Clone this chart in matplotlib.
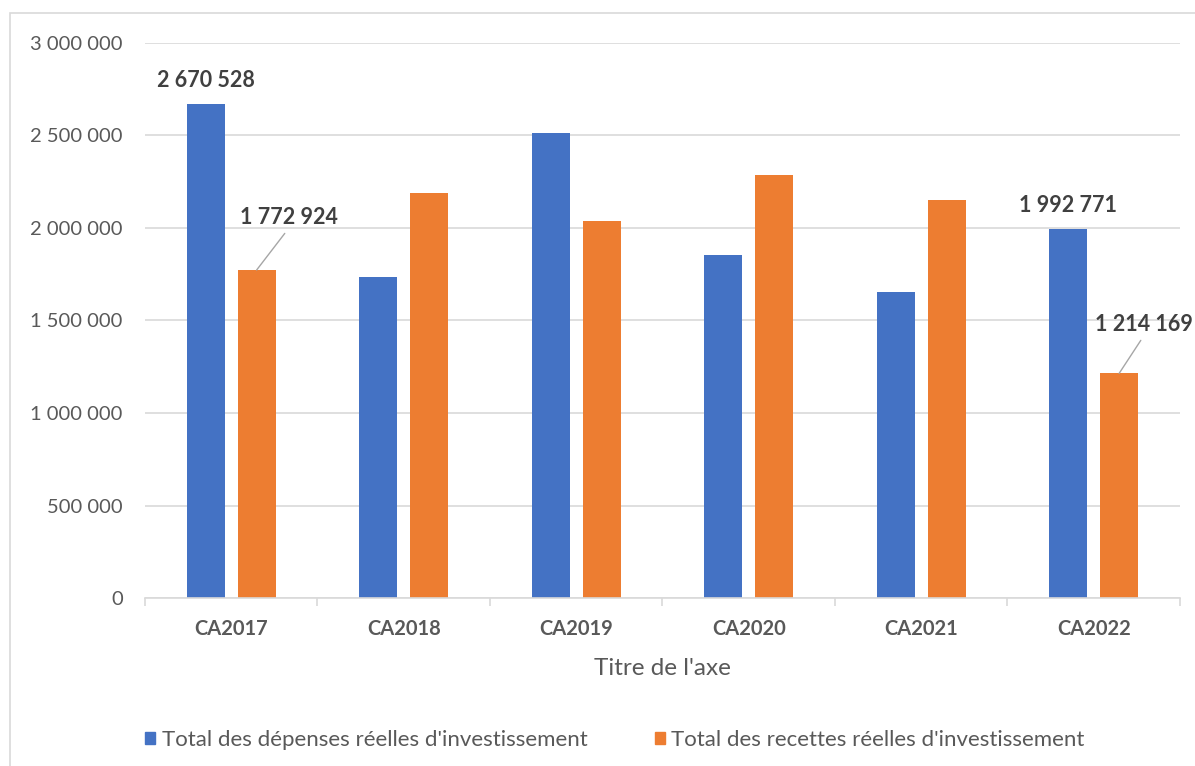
import matplotlib
matplotlib.use("Agg")
import matplotlib.pyplot as plt
import matplotlib.patches as mpatches
from matplotlib.ticker import FuncFormatter, FixedLocator
import numpy as np

plt.rcParams['font.family'] = ['Lato', 'DejaVu Sans']

# Comptes administratifs : investissement réel
categories = ["CA2017", "CA2018", "CA2019", "CA2020", "CA2021", "CA2022"]
depenses = [2670528, 1735000, 2511000, 1855000, 1654000, 1992771]
recettes = [1772924, 2191000, 2039000, 2288000, 2153000, 1214169]
y_ticks = [0, 500000, 1000000, 1500000, 2000000, 2500000, 3000000]

BLUE = "#4472C4"
ORANGE = "#ED7D31"
GRID = "#D9D9D9"
TEXT = "#595959"


def fr_number(v, pos=None):
    return f"{v:,.0f}".replace(",", " ")


fig = plt.figure(figsize=(11.95, 7.66), dpi=100, facecolor="white")
ax = fig.add_axes([0.1213, 0.2193, 0.8661, 0.7246])

# outer chart frame
fig.patches.append(mpatches.Rectangle((10 / 1195, -0.01), 1.0, 1 - 13 / 766 + 0.01,
                                      transform=fig.transFigure, fill=False,
                                      edgecolor="#D9D9D9", linewidth=1.2))

x = np.arange(len(categories))
w = 0.22
off = 0.1475
b1 = ax.bar(x - off, depenses, w, color=BLUE, zorder=3,
            label="Total des dépenses réelles d'investissement")
b2 = ax.bar(x + off, recettes, w, color=ORANGE, zorder=3,
            label="Total des recettes réelles d'investissement")

ax.set_xlim(-0.5, len(categories) - 0.5)
ax.set_ylim(0, 3000000)
ax.yaxis.set_major_locator(FixedLocator(y_ticks))
ax.yaxis.set_major_formatter(FuncFormatter(fr_number))
ax.grid(axis="y", color=GRID, linewidth=1.2, zorder=0)
ax.set_axisbelow(True)

for side in ["top", "right", "left"]:
    ax.spines[side].set_visible(False)
ax.spines["bottom"].set_color(GRID)
ax.spines["bottom"].set_linewidth(1.2)
ax.spines["bottom"].set_zorder(4)

ax.set_xticks(x)
ax.set_xticklabels(categories, fontsize=14.5, fontweight="bold", color=TEXT)
ax.set_xticks(np.arange(-0.5, len(categories)), minor=True)
ax.tick_params(axis="x", which="major", length=0, pad=15)
ax.tick_params(axis="x", which="minor", length=6, color=GRID, width=1.2)
ax.tick_params(axis="y", length=0, pad=16, labelsize=14.5, labelcolor=TEXT)

ax.set_xlabel("Titre de l'axe", fontsize=17.5, color=TEXT, labelpad=14)

# data labels
label_kw = dict(fontsize=15.5, fontweight="bold", color="#404040",
                ha="center", va="center", textcoords="offset points")
ax.annotate(fr_number(depenses[0]), xy=(x[0] - off, depenses[0]),
            xytext=(0, 17), **label_kw)
ax.annotate(fr_number(depenses[5]), xy=(x[5] - off, depenses[5]),
            xytext=(0, 17), **label_kw)
leader = dict(arrowstyle="-", color="#A6A6A6", lw=1, relpos=(0.5, 0.0),
              shrinkA=2, shrinkB=0)
ax.annotate(fr_number(recettes[0]), xy=(x[0] + off, recettes[0]),
            xytext=(23, 37.5), arrowprops=leader, **label_kw)
ax.annotate(fr_number(recettes[5]), xy=(x[5] + off, recettes[5]),
            xytext=(18, 35), arrowprops=leader, **label_kw)

handles = [mpatches.Patch(color=BLUE), mpatches.Patch(color=ORANGE)]
fig.legend(handles, [b1.get_label(), b2.get_label()], loc="center",
           bbox_to_anchor=(615 / 1195, 1 - 740 / 766), ncol=2, frameon=False,
           fontsize=16, labelcolor=TEXT, handlelength=0.45, handleheight=0.45,
           handletextpad=0.3, columnspacing=3.0)

fig.savefig("out.png", dpi=100, facecolor="white")
